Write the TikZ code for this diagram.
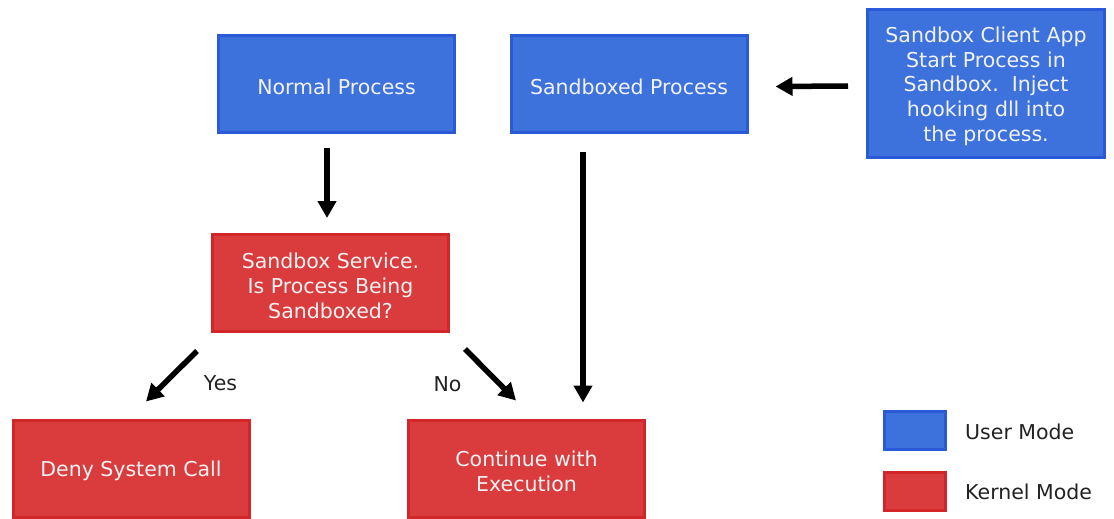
\documentclass[tikz,border=0pt]{standalone}
\usepackage{fontspec}
\setmainfont{DejaVu Sans}
\usetikzlibrary{arrows.meta}
\definecolor{ufill}{HTML}{3D72DC}
\definecolor{uline}{HTML}{2A5AD8}
\definecolor{kfill}{HTML}{DA3C3D}
\definecolor{kline}{HTML}{D32629}
\definecolor{boxtext}{HTML}{F2F2F2}
\definecolor{labtext}{HTML}{222222}
\newcommand\firstline{\rule{0pt}{21pt}}
\tikzset{
  box/.style={draw, line width=3pt, minimum width=236pt, minimum height=97pt,
    align=center, text=boxtext, inner sep=0pt,
    font=\fontsize{20.5}{24.7}\selectfont},
  userbox/.style={box, fill=ufill, draw=uline},
  kernbox/.style={box, fill=kfill, draw=kline},
  legbox/.style={draw, line width=3pt, minimum width=61pt, minimum height=38pt, inner sep=0pt},
  lab/.style={text=labtext, inner sep=0pt, font=\fontsize{20.5}{24}\selectfont},
  arr/.style={line width=5.5pt, -{Triangle[length=17pt,width=18pt]}},
}
\begin{document}
\begin{tikzpicture}[x=1pt,y=-1pt]
\useasboundingbox[fill=white] (0,0) rectangle (1114,519);
\node[userbox] (np) at (336.5,84) {\firstline Normal Process};
\node[userbox] (sp) at (629,84) {\firstline Sandboxed Process};
\node[userbox, minimum width=237pt, minimum height=148pt] (ca) at (986,83.5)
  {\firstline Sandbox Client App\\Start Process in\\Sandbox.\ \ Inject\\hooking dll into\\the process.};
\node[kernbox] (svc) at (330.5,283) {\firstline Sandbox Service.\\Is Process Being\\Sandboxed?};
\node[kernbox] (deny) at (131,468.5) {\firstline Deny System Call};
\node[kernbox] (cont) at (526.5,468.5) {\firstline Continue with\\Execution};
\node[legbox, fill=ufill, draw=uline] (lu) at (915,430.5) {};
\node[legbox, fill=kfill, draw=kline] (lk) at (915,491.5) {};
\node[lab, anchor=west] (tu) at (965,432) {User Mode};
\node[lab, anchor=west] (tk) at (965,492) {Kernel Mode};
\node[lab] (yes) at (220.5,383) {Yes};
\node[lab] (no) at (447.5,384) {No};
\draw[arr] ([shift={(-9.5,14)}]np.south) -- ([shift={(-3.5,-15)}]svc.north);
\draw[arr] ([shift={(-46,18)}]sp.south) -- ([shift={(56.5,-16)}]cont.north);
\draw[arr] ([shift={(-18,2.5)}]ca.west) -- ([shift={(27,2.5)}]sp.east);
\draw[arr] ([shift={(-133.5,18)}]svc.south) -- ([shift={(15,-17)}]deny.north);
\draw[arr] ([shift={(134.5,16)}]svc.south) -- ([shift={(-10.5,-18)}]cont.north);
\end{tikzpicture}
\end{document}
